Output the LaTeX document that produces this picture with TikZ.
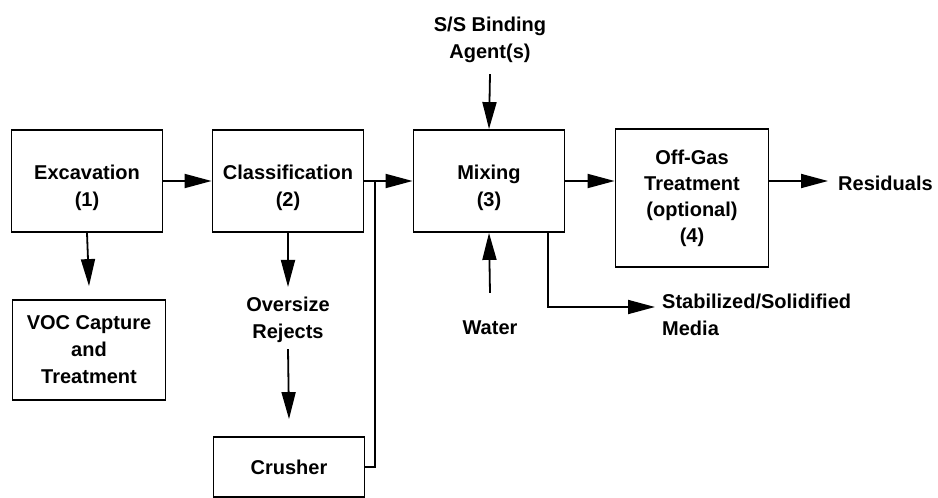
\documentclass[tikz,border=0pt]{standalone}
\usepackage{fontspec}
\setmainfont{Liberation Sans}
\usetikzlibrary{arrows.meta,positioning}
\newcommand{\lowstrut}{\rule{0pt}{28pt}}
\begin{document}
\begin{tikzpicture}[x=1pt,y=1pt,
  every node/.style={font=\bfseries\fontsize{20}{27}\selectfont, align=center, inner sep=0pt},
  box/.style={draw, line width=1.8pt, rectangle, minimum width=151pt},
  arr/.style={line width=1.8pt, -{Triangle[length=27pt,width=14pt]}},
  ln/.style={line width=1.8pt}]
\useasboundingbox (0,0) rectangle (938,-498);
% boxes
\node[box, minimum height=102pt] (exc) at (87,-181) {\lowstrut Excavation\\(1)};
\node[box, minimum height=102pt] (cls) at (288,-181) {\lowstrut Classification\\(2)};
\node[box, minimum height=102pt] (mix) at (489,-181) {\lowstrut Mixing\\(3)};
\node[box, minimum width=153pt, minimum height=138pt, font=\bfseries\fontsize{20}{26}\selectfont] (off) at (692,-198) {Off-Gas\\Treatment\\(optional)\\(4)};
\node[box, minimum width=153pt, minimum height=100pt] (voc) at (89,-350) {VOC Capture\\and\\Treatment};
\node[box, minimum height=60pt] (crush) at (289,-467) {Crusher};
% text nodes
\node (ss) at (490,-40) {S/S Binding\\Agent(s)};
\node (over) at (288,-320) {Oversize\\Rejects};
\node (water) at (490,-328) {Water};
\node[anchor=west, align=left] (stab) at (662,-315) {Stabilized/Solidified\\Media};
\node[anchor=west] (res) at (838,-183) {Residuals};
\coordinate (j) at (375,-181);
\coordinate (sdown) at (548,-181);
\coordinate (stabin) at (655,-307);
% connectors
\draw[arr] (exc.east) -- (cls.west);
\draw[arr] (cls.east) -- (mix.west);
\draw[ln] (crush.east) -| (j);
\draw[arr] (mix.east) -- (mix.east -| off.west);
\draw[arr] (mix.east -| off.east) -- ([xshift=-10pt]res.west |- mix.east);
\draw[arr] (exc.south) -- ([yshift=13pt]voc.north);
\draw[arr] (cls.south) -- ([yshift=10pt]over.north);
\draw[arr] ([yshift=-6pt]over.south) -- ([yshift=17pt]crush.north);
\draw[arr] ([yshift=-11pt]ss.south) -- (mix.north);
\draw[arr] ([yshift=28pt]water.north) -- (mix.south);
\draw[arr] (sdown |- mix.south) |- (stabin);
\end{tikzpicture}
\end{document}
